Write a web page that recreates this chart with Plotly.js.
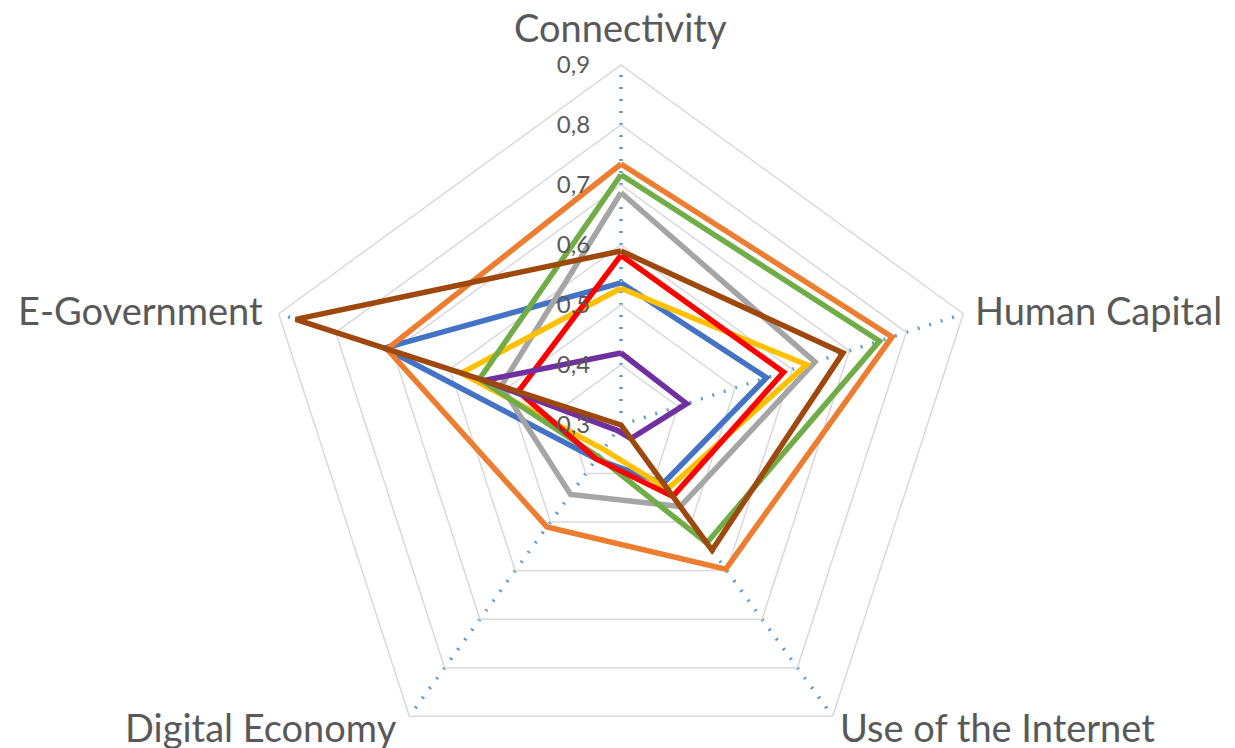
<!DOCTYPE html>
<html>
<head>
<meta charset="utf-8">
<script src="https://cdn.plot.ly/plotly-3.0.1.min.js"></script>
<style>
html,body{margin:0;padding:0;overflow:hidden;background:#fff;}
#chart{width:1235px;height:800px;}
</style>
</head>
<body>
<div id="chart"></div>
<script>
const categories = ['Connectivity', 'Human Capital', 'Use of the Internet', 'Digital Economy', 'E-Government'];
const seriesNames = ['Series 1', 'Series 2', 'Series 3', 'Series 4', 'Series 5', 'Series 6', 'Series 7', 'Series 8'];
const seriesColors = ['#4472C4', '#ED7D31', '#A5A5A5', '#FFC000', '#70AD47', '#FF0000', '#7030A0', '#9E480E'];
const blueValues   = [0.537, 0.555, 0.420, 0.370, 0.715];
const orangeValues = [0.735, 0.775, 0.597, 0.510, 0.710];
const grayValues   = [0.687, 0.640, 0.468, 0.443, 0.510];
const yellowValues = [0.528, 0.625, 0.432, 0.350, 0.580];
const greenValues  = [0.717, 0.753, 0.543, 0.365, 0.548];
const redValues    = [0.583, 0.585, 0.447, 0.370, 0.480];
const purpleValues = [0.420, 0.415, 0.328, 0.311, 0.540];
const brownValues  = [0.590, 0.689, 0.558, 0.280, 0.870];
const radialTicks = [0.3, 0.4, 0.5, 0.6, 0.7, 0.8, 0.9];

const allValues = [blueValues, orangeValues, grayValues, yellowValues, greenValues, redValues, purpleValues, brownValues];

const traces = allValues.map((vals, i) => ({
  type: 'scatterpolar',
  mode: 'lines',
  name: seriesNames[i],
  r: vals.concat([vals[0]]),
  theta: categories.concat([categories[0]]),
  line: {color: seriesColors[i], width: 5.5},
  hoverinfo: 'skip'
}));

// page geometry (pixels) used to place category labels in paper coordinates
const W = 1235, H = 800, ML = 7, MR = 0, MT = 65, MB = 15;
const px2x = x => (x - ML) / (W - ML - MR);
const px2y = y => (H - MB - y) / (H - MT - MB);

const labelSpots = [
  {x: 620, y: 27, xanchor: 'center'},
  {x: 973, y: 310, xanchor: 'left'},
  {x: 838, y: 727, xanchor: 'left'},
  {x: 399, y: 727, xanchor: 'right'},
  {x: 265, y: 310, xanchor: 'right'}
];

const annotations = categories.map((c, i) => ({
  text: c,
  xref: 'paper', yref: 'paper',
  x: px2x(labelSpots[i].x), y: px2y(labelSpots[i].y),
  xanchor: labelSpots[i].xanchor, yanchor: 'middle',
  showarrow: false,
  font: {size: 38, color: '#595959', family: 'Lato, sans-serif'}
}));

const layout = {
  width: W,
  height: H,
  margin: {l: ML, r: MR, t: MT, b: MB},
  paper_bgcolor: '#ffffff',
  showlegend: false,
  separators: ',.',
  font: {family: 'Lato, "Open Sans", sans-serif', color: '#595959'},
  annotations: annotations,
  polar: {
    bgcolor: 'rgba(0,0,0,0)',
    gridshape: 'linear',
    radialaxis: {
      range: [0.3, 0.9],
      tickvals: radialTicks,
      tickformat: '.1f',
      angle: 90,
      side: 'counterclockwise',
      showline: false,
      ticks: 'outside',
      ticklen: 22,
      tickcolor: 'rgba(0,0,0,0)',
      gridcolor: '#D9D9D9',
      gridwidth: 1.5,
      tickfont: {size: 24, color: '#595959', family: 'Lato, sans-serif'},
      tickangle: 90
    },
    angularaxis: {
      direction: 'clockwise',
      rotation: 90,
      showline: true,
      linecolor: '#D9D9D9',
      linewidth: 1.5,
      gridcolor: '#5B9BD5',
      gridwidth: 3.5,
      griddash: '2px,10px',
      ticks: '',
      showticklabels: false
    }
  }
};

Plotly.newPlot('chart', traces, layout, {displayModeBar: false, staticPlot: true});
</script>
</body>
</html>
